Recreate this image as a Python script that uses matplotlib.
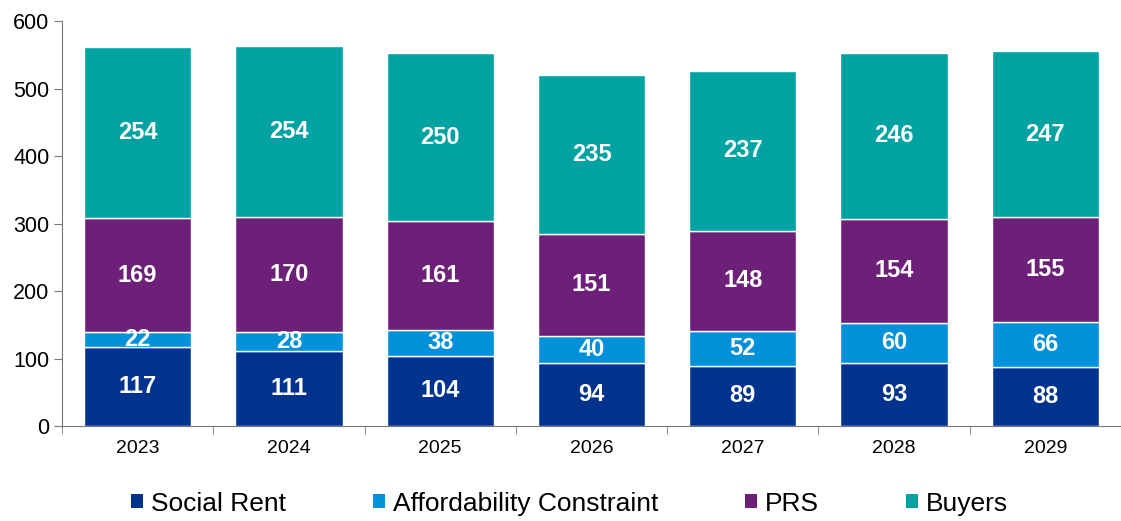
import numpy as np
import matplotlib.pyplot as plt
from matplotlib.patches import Patch

years = ['2023', '2024', '2025', '2026', '2027', '2028', '2029']
social_rent = [117, 111, 104, 94, 89, 93, 88]
affordability = [22, 28, 38, 40, 52, 60, 66]
prs = [169, 170, 161, 151, 148, 154, 155]
buyers = [254, 254, 250, 235, 237, 246, 247]

series_names = ['Social Rent', 'Affordability Constraint', 'PRS', 'Buyers']
colors = ['#00338D', '#0091DA', '#6D2077', '#00A3A1']

plt.rcParams['font.family'] = ['Liberation Sans', 'DejaVu Sans']

fig = plt.figure(figsize=(11.21, 5.21), dpi=100)
ax = fig.add_axes([0.0553, 0.1823, 0.9447, 0.7774])

x = np.arange(len(years))
bottom = np.zeros(len(years))
for vals, name, col in zip([social_rent, affordability, prs, buyers], series_names, colors):
    vals = np.array(vals, dtype=float)
    ax.bar(x, vals, width=0.71, bottom=bottom, color=col, edgecolor='white',
           linewidth=1, label=name)
    for xi, b, v in zip(x, bottom, vals):
        ax.text(xi, b + v / 2, '%d' % v, ha='center', va='center',
                color='white', fontsize=17, fontweight='bold')
    bottom += vals

ax.set_xlim(-0.5, len(years) - 0.5)
ax.set_ylim(0, 600)
ax.set_yticks(range(0, 601, 100))
ax.set_xticks(x)
ax.set_xticklabels(years)
ax.set_xticks(np.arange(-0.5, len(years), 1), minor=True)
ax.tick_params(axis='x', which='major', length=0, labelsize=14, pad=10)
ax.tick_params(axis='x', which='minor', length=6, direction='out', color='#777777')
ax.tick_params(axis='y', length=6, direction='out', color='#777777', labelsize=15.5, pad=3)

for s in ['top', 'right']:
    ax.spines[s].set_visible(False)
for s in ['left', 'bottom']:
    ax.spines[s].set_color('#777777')

handles = [Patch(facecolor=c, edgecolor='none') for c in colors]
fig.legend(handles, series_names, loc='center', bbox_to_anchor=(0.508, 0.033),
           ncol=4, frameon=False, fontsize=19, handlelength=0.45, handleheight=0.45,
           handletextpad=0.3, columnspacing=3.3)

fig.savefig('out.png', dpi=100)
